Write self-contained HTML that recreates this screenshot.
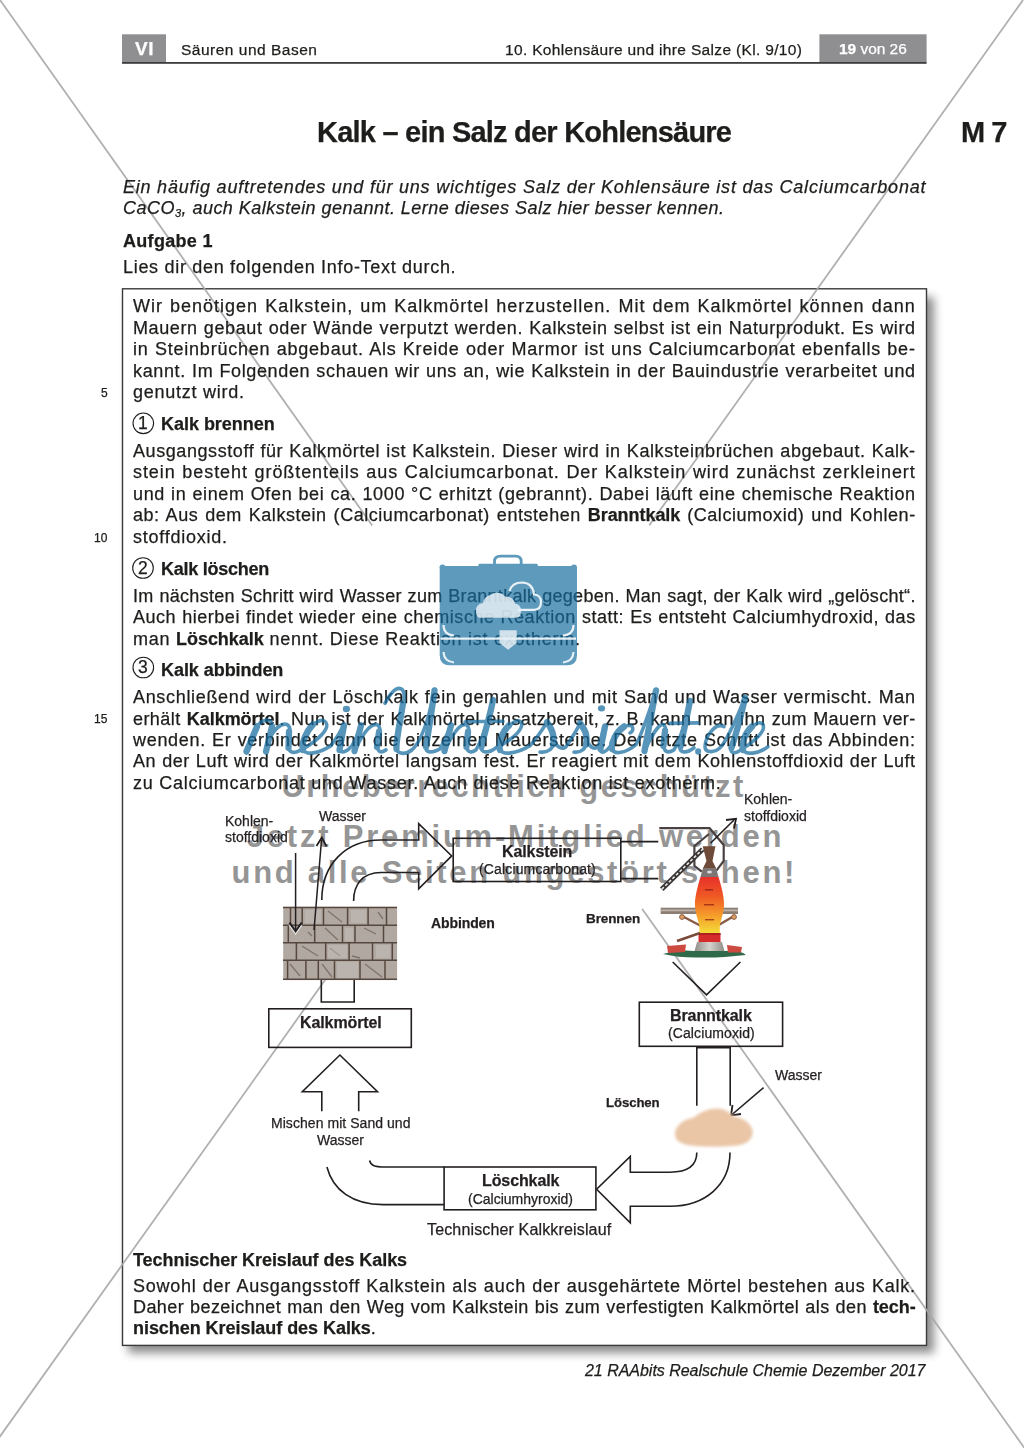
<!DOCTYPE html>
<html><head><meta charset="utf-8">
<style>
html,body{margin:0;padding:0;background:#fff;}
body{width:1024px;height:1448px;position:relative;overflow:hidden;font-family:"Liberation Sans",sans-serif;color:#1d1d1b;}
.t{position:absolute;will-change:transform;}
.t b{font-weight:bold;}
.t{-webkit-text-stroke:0.25px currentColor;}
.t sub{font-size:11px;vertical-align:-3px;line-height:0;}
svg{position:absolute;left:0;top:0;}
</style></head><body>
<svg width="1024" height="1448" viewBox="0 0 1024 1448">
<defs>
<filter id="sh" x="-10%" y="-10%" width="130%" height="130%"><feGaussianBlur stdDeviation="5"/></filter>
</defs>
<!-- header -->
<rect x="122" y="34.3" width="44" height="27.8" fill="#8f8f91"/>
<rect x="819.4" y="34.3" width="107.2" height="27.8" fill="#8f8f91"/>
<rect x="122" y="62" width="804.6" height="1.8" fill="#3c3c3c"/>
<!-- box shadow -->
<rect x="128" y="297" width="806" height="1056" fill="#000" opacity="0.45" filter="url(#sh)"/>
<rect x="122.5" y="288.8" width="804" height="1056.6" fill="#fff" stroke="#3a3a3a" stroke-width="1.4"/>
</svg>

<svg width="1024" height="1448" viewBox="0 0 1024 1448">
<g font-family="Liberation Sans" font-weight="bold" fill="#959595">
<text x="281.5" y="796.6" font-size="31" letter-spacing="2.42">Urheberrechtlich geschützt</text>
<text x="246.8" y="846.6" font-size="31" letter-spacing="2.79">Jetzt Premium-Mitglied werden</text>
<text x="231.5" y="883" font-size="31" letter-spacing="2.71">und alle Seiten ungestört sehen!</text>
</g>
</svg>

<svg width="1024" height="1448" viewBox="0 0 1024 1448">
<defs>
<filter id="blur1" x="-20%" y="-20%" width="140%" height="140%"><feGaussianBlur stdDeviation="1.6"/></filter>
<linearGradient id="fg" x1="0" y1="0" x2="0" y2="1">
<stop offset="0" stop-color="#e8302a"/><stop offset="0.35" stop-color="#ef5a24"/><stop offset="0.7" stop-color="#f5a02a"/><stop offset="1" stop-color="#f4dc3a"/></linearGradient>
<linearGradient id="base" x1="0" y1="0" x2="1" y2="0">
<stop offset="0" stop-color="#8d8a86"/><stop offset="0.5" stop-color="#d6d3cf"/><stop offset="1" stop-color="#8d8a86"/></linearGradient>
</defs>
<!-- circles -->
<g fill="none" stroke="#1d1d1b" stroke-width="1.1">
<circle cx="143.3" cy="423.3" r="10.3"/>
<circle cx="143" cy="568" r="10.3"/>
<circle cx="143.3" cy="667.5" r="10.3"/>
</g>
<!-- diagonal lines -->
<g stroke="#a8a8a8" stroke-width="1.8" opacity="0.9">
<line x1="0" y1="0" x2="372.2" y2="525.5"/>
<line x1="1023" y1="0" x2="649.3" y2="525.2"/>
<line x1="642.2" y1="908.9" x2="1024.4" y2="1448"/>
<line x1="375.7" y1="908.9" x2="-8.3" y2="1448"/>
</g>
<!-- diagram -->
<g fill="none" stroke="#231f20" stroke-width="1.6">
<rect x="453.2" y="838.3" width="167.6" height="43.2"/>
<rect x="639.3" y="1002.2" width="143.3" height="44.1"/>
<rect x="268.8" y="1008.8" width="142.5" height="38.6"/>
<rect x="444.1" y="1167" width="151.8" height="42.8"/>
<path d="M321.8 900 C321.8 865 345 840 381 840 L418.7 840 L418.7 823.7 L451.7 855.9 L418.7 888.9 L418.7 872.5 L381 872.5 C362 872.5 353.6 885 353.6 901"/>
<path d="M321.8 1111.3 L321.8 1091.8 L302.3 1091.8 L339.9 1055 L377.5 1091.8 L358.7 1091.8 L358.7 1111.3"/>
<path d="M321.3 980 L321.3 1002 L354.2 1002 L354.2 980"/>
<path d="M672.7 962 L706.5 994.8 L740.4 962"/>
<path d="M696.8 1105.7 L696.8 1047.6 L730.2 1047.6 L730.2 1105.7"/>
<path d="M730 1152.6 C730 1185 705 1206.2 670 1206.2 L630.3 1206.2 L630.3 1222.9 L596.6 1189.2 L630.3 1156.4 L630.3 1172.2 L670 1172.2 C688 1172.2 696.8 1165 696.8 1152.6"/>
<path d="M326.9 1167 C333 1190 352 1204.6 383 1204.6 L444.1 1204.6"/>
<path d="M369.6 1160.5 C370.5 1165 374 1167 385 1167 L444.1 1167"/>
<path d="M620.8 841.6 L658.3 841.6 M620.8 878.6 L658.3 878.6"/>
<path d="M763.6 1087.6 L731.5 1115"/><path d="M732.5 1105 L731 1115.5 L741 1114" stroke-width="1.8"/>
</g>
<g fill="#231f20">

</g>
<!-- brick wall -->
<g>
<rect x="283.2" y="906.8" width="113.9" height="73.3" fill="#b1a8a1"/>
<g stroke="#57483f" stroke-width="1.5" fill="none">
<path d="M283 907.5 H397 M283 925.2 H397 M283 942.7 H397 M283 960.3 H397 M283 979.3 H397"/>
<path d="M290.5 907 V925 M302.2 907 V925 M323.5 907 V925 M347.6 907 V925 M368.1 907 V925 M386.5 907 V925"/>
<path d="M288.3 925 V943 M314.7 925 V943 M342.5 925 V943 M355 925 V943 M383.5 925 V943"/>
<path d="M296.4 943 V960 M325.7 943 V960 M349.1 943 V960 M372.5 943 V960 M392.3 943 V960"/>
<path d="M287.6 960 V980 M305.9 960 V980 M318.3 960 V980 M334.5 960 V980 M360 960 V980 M385 960 V980"/>
</g>
<g stroke="#6f625b" stroke-width="1.3" fill="none" opacity="0.75">
<path d="M328 911 L342 922 M378 912 L383 919 M325 928 L338 940 M364 928 L376 934 M302 946 L318 956 M330 948 L340 956 M352 956 L360 958 M290 964 L300 976 M322 964 L332 977 M365 964 L382 977 M308 932 L312 936"/>
</g>
<g fill="#c9c2bc" opacity="0.45">
<rect x="305" y="910" width="16" height="13"/><rect x="351" y="910" width="15" height="13"/><rect x="345" y="928" width="8" height="13"/><rect x="328" y="945" width="19" height="13"/><rect x="376" y="945" width="14" height="13"/><rect x="337" y="962" width="21" height="16"/>
</g>
</g>
<!-- arrows at wall -->
<g fill="none" stroke="#231f20" stroke-width="1.5">
<path d="M295.6 853 L295.6 931"/>
<path d="M314 930 L321.5 840"/>
<path d="M289.5 922.5 L295.6 931.5 L301.7 922.5" stroke-width="2"/>
</g>
<path d="M289 925 L295.6 934 L302 925" fill="none" stroke="#f2f2f2" stroke-width="1.2" opacity="0.8"/>
<path d="M316.5 846 L321.8 837.5 L326.5 846.5" fill="none" stroke="#231f20" stroke-width="1.8"/>
<!-- furnace -->
<g>
<path d="M659.3 828.2 L709.6 828.2 L723.7 845 L723.7 861 L716.4 870.7 M701.8 871.6 L694.4 866 L694.4 846 L709 834" fill="none" stroke="#4a4242" stroke-width="2.2"/>
<rect x="660.7" y="907.7" width="77.3" height="6.3" fill="#8c7d73"/>
<rect x="660.7" y="909.5" width="77.3" height="1.8" fill="#bdb3aa"/>
<path d="M682 916 L701 926 M734 916 L717 926" stroke="#8a5a44" stroke-width="2.4"/>
<circle cx="682" cy="917" r="2.4" fill="#e0a060" stroke="#8a5a44" stroke-width="1"/>
<circle cx="734" cy="917" r="2.4" fill="#e0a060" stroke="#8a5a44" stroke-width="1"/>
<path d="M702.7 846.2 L715.4 846.2 L712.5 861 L716 868 L703 868 L706.5 861 Z" fill="#6e4a38"/>
<path d="M703 868 L716 868 L718.5 877 L700.5 877 Z" fill="#7d7474"/>
<ellipse cx="709.5" cy="872" rx="2.5" ry="1.5" fill="#d9d9e0"/>
<path d="M700.5 877 L718.5 877 C722 888 724.5 899 724 906 C723.5 914 720.5 921 719.8 926 L719.8 933 L699.4 933 L699.4 926 C698.5 921 695.5 914 695 906 C694.5 899 697 888 700.5 877 Z" fill="url(#fg)"/>
<g fill="#8a1a10" opacity="0.7"><rect x="705" y="889" width="8" height="1.6"/><rect x="704" y="904" width="10" height="1.4"/><rect x="705" y="919" width="9" height="1.4"/></g>
<rect x="698.5" y="933" width="22" height="9" fill="#d42c2a"/>
<rect x="698.5" y="933" width="22" height="2" fill="#b01f1f"/>
<path d="M677 941 L700 933" stroke="#7a4a3a" stroke-width="2.6"/>
<path d="M697 942 L722 942 L725 953 L694 953 Z" fill="url(#base)"/>
<path d="M663 954 Q680 949 694 951 L725 951 Q740 950 746 955 Q720 958 700 957.5 Q680 958 663 954 Z" fill="#2f6a4b"/>
<path d="M667 946 L686 944.5 L685 952 L668 953 Z" fill="#cc4a3f"/>
<path d="M727 945 L742 947 L741 952.5 L728 952.5 Z" fill="#cc4a3f"/>
<path d="M661.7 889.2 L702.7 849.2" stroke="#3a3535" stroke-width="5"/>
<path d="M661.7 889.2 L702.7 849.2" stroke="#e8e8e8" stroke-width="1.6" stroke-dasharray="3 2"/>
</g>
<path d="M710.5 843.3 L734 820" fill="none" stroke="#231f20" stroke-width="1.6"/>
<path d="M726 820 L736 818.8 L734 828.5" fill="none" stroke="#231f20" stroke-width="1.8"/>
<!-- sand pile -->
<path d="M675 1133 Q677 1121 694 1117.5 Q704 1108.5 718 1108.5 Q728 1109.5 733 1116 Q749 1119 752.5 1130 Q754 1143 737 1145.5 Q714 1148 690 1145.5 Q674 1143 675 1133 Z" fill="#eac6a7" filter="url(#blur1)"/>
</svg>

<div class="t" style="left:181.00px;top:39.93px;font-size:15.5px;line-height:19px;letter-spacing:0.502px;white-space:nowrap;">Säuren und Basen</div>
<div class="t" style="left:505.00px;top:39.83px;font-size:15.5px;line-height:19px;letter-spacing:0.335px;white-space:nowrap;">10. Kohlensäure und ihre Salze (Kl. 9/10)</div>
<div class="t" style="left:135.20px;top:36.92px;font-size:19px;line-height:23px;font-weight:bold;color:#fff;letter-spacing:0.600px;white-space:nowrap;">VI</div>
<div class="t" style="left:839.40px;top:39.03px;font-size:15.5px;line-height:19px;color:#fff;letter-spacing:-0.028px;white-space:nowrap;"><b style="letter-spacing:-0.05px">19</b> von 26</div>
<div class="t" style="left:138.10px;top:413.04px;font-size:17.5px;line-height:21px;letter-spacing:0.000px;white-space:nowrap;">1</div>
<div class="t" style="left:137.80px;top:557.74px;font-size:17.5px;line-height:21px;letter-spacing:0.000px;white-space:nowrap;">2</div>
<div class="t" style="left:138.10px;top:657.34px;font-size:17.5px;line-height:21px;letter-spacing:0.000px;white-space:nowrap;">3</div>
<div class="t" style="left:316.60px;top:114.65px;font-size:29px;line-height:35px;font-weight:bold;letter-spacing:-0.780px;white-space:nowrap;">Kalk – ein Salz der Kohlensäure</div>
<div class="t" style="left:961.30px;top:114.65px;font-size:29px;line-height:35px;font-weight:bold;letter-spacing:-1.000px;white-space:nowrap;">M&nbsp;7</div>
<div class="t" style="left:123.30px;top:175.56px;font-size:18px;line-height:22px;font-style:italic;letter-spacing:0.776px;white-space:nowrap;">Ein häufig auftretendes und für uns wichtiges Salz der Kohlensäure ist das Calciumcarbonat</div>
<div class="t" style="left:123.30px;top:196.56px;font-size:18px;line-height:22px;font-style:italic;letter-spacing:0.470px;white-space:nowrap;">CaCO<sub>3</sub>, auch Kalkstein genannt. Lerne dieses Salz hier besser kennen.</div>
<div class="t" style="left:123.30px;top:230.06px;font-size:18px;line-height:22px;font-weight:bold;letter-spacing:0.300px;white-space:nowrap;">Aufgabe 1</div>
<div class="t" style="left:123.30px;top:256.16px;font-size:18px;line-height:22px;letter-spacing:0.695px;white-space:nowrap;">Lies dir den folgenden Info-Text durch.</div>
<div class="t" style="left:133.30px;top:295.46px;font-size:18px;line-height:22px;width:782.70px;text-align:justify;text-align-last:justify;letter-spacing:1.000px;">Wir benötigen Kalkstein, um Kalkmörtel herzustellen. Mit dem Kalkmörtel können dann</div>
<div class="t" style="left:133.30px;top:316.86px;font-size:18px;line-height:22px;width:782.70px;text-align:justify;text-align-last:justify;letter-spacing:0.612px;">Mauern gebaut oder Wände verputzt werden. Kalkstein selbst ist ein Naturprodukt. Es wird</div>
<div class="t" style="left:133.30px;top:338.26px;font-size:18px;line-height:22px;width:782.70px;text-align:justify;text-align-last:justify;letter-spacing:0.777px;">in Steinbrüchen abgebaut. Als Kreide oder Marmor ist uns Calciumcarbonat ebenfalls be-</div>
<div class="t" style="left:133.30px;top:359.66px;font-size:18px;line-height:22px;width:782.70px;text-align:justify;text-align-last:justify;letter-spacing:0.638px;">kannt. Im Folgenden schauen wir uns an, wie Kalkstein in der Bauindustrie verarbeitet und</div>
<div class="t" style="left:133.30px;top:381.06px;font-size:18px;line-height:22px;letter-spacing:0.750px;white-space:nowrap;">genutzt wird.</div>
<div class="t" style="left:133.30px;top:440.06px;font-size:18px;line-height:22px;width:782.70px;text-align:justify;text-align-last:justify;letter-spacing:0.574px;">Ausgangsstoff für Kalkmörtel ist Kalkstein. Dieser wird in Kalksteinbrüchen abgebaut. Kalk-</div>
<div class="t" style="left:133.30px;top:461.46px;font-size:18px;line-height:22px;width:782.70px;text-align:justify;text-align-last:justify;letter-spacing:0.930px;">stein besteht größtenteils aus Calciumcarbonat. Der Kalkstein wird zunächst zerkleinert</div>
<div class="t" style="left:133.30px;top:482.86px;font-size:18px;line-height:22px;width:782.70px;text-align:justify;text-align-last:justify;letter-spacing:0.636px;">und in einem Ofen bei ca. 1000 °C erhitzt (gebrannt). Dabei läuft eine chemische Reaktion</div>
<div class="t" style="left:133.30px;top:504.26px;font-size:18px;line-height:22px;width:782.70px;text-align:justify;text-align-last:justify;letter-spacing:0.545px;">ab: Aus dem Kalkstein (Calciumcarbonat) entstehen <b style="letter-spacing:-0.05px">Branntkalk</b> (Calciumoxid) und Kohlen-</div>
<div class="t" style="left:133.30px;top:525.66px;font-size:18px;line-height:22px;letter-spacing:0.750px;white-space:nowrap;">stoffdioxid.</div>
<div class="t" style="left:133.30px;top:584.86px;font-size:18px;line-height:22px;width:782.70px;text-align:justify;text-align-last:justify;letter-spacing:0.303px;">Im nächsten Schritt wird Wasser zum Branntkalk gegeben. Man sagt, der Kalk wird „gelöscht“.</div>
<div class="t" style="left:133.30px;top:606.26px;font-size:18px;line-height:22px;width:782.70px;text-align:justify;text-align-last:justify;letter-spacing:0.521px;">Auch hierbei findet wieder eine chemische Reaktion statt: Es entsteht Calciumhydroxid, das</div>
<div class="t" style="left:133.30px;top:627.66px;font-size:18px;line-height:22px;letter-spacing:0.750px;white-space:nowrap;">man <b style="letter-spacing:-0.05px">Löschkalk</b> nennt. Diese Reaktion ist exotherm.</div>
<div class="t" style="left:133.30px;top:686.26px;font-size:18px;line-height:22px;width:782.70px;text-align:justify;text-align-last:justify;letter-spacing:0.673px;">Anschließend wird der Löschkalk fein gemahlen und mit Sand und Wasser vermischt. Man</div>
<div class="t" style="left:133.30px;top:707.66px;font-size:18px;line-height:22px;width:782.70px;text-align:justify;text-align-last:justify;letter-spacing:0.428px;">erhält <b style="letter-spacing:-0.05px">Kalkmörtel</b>. Nun ist der Kalkmörtel einsatzbereit, z. B. kann man ihn zum Mauern ver-</div>
<div class="t" style="left:133.30px;top:729.06px;font-size:18px;line-height:22px;width:782.70px;text-align:justify;text-align-last:justify;letter-spacing:0.683px;">wenden. Er verbindet dann die einzelnen Mauersteine. Der letzte Schritt ist das Abbinden:</div>
<div class="t" style="left:133.30px;top:750.46px;font-size:18px;line-height:22px;width:782.70px;text-align:justify;text-align-last:justify;letter-spacing:0.557px;">An der Luft wird der Kalkmörtel langsam fest. Er reagiert mit dem Kohlenstoffdioxid der Luft</div>
<div class="t" style="left:133.30px;top:771.86px;font-size:18px;line-height:22px;letter-spacing:0.750px;white-space:nowrap;">zu Calciumcarbonat und Wasser. Auch diese Reaktion ist exotherm.</div>
<div class="t" style="left:160.60px;top:413.16px;font-size:18px;line-height:22px;font-weight:bold;letter-spacing:-0.024px;white-space:nowrap;">Kalk brennen</div>
<div class="t" style="left:160.80px;top:557.86px;font-size:18px;line-height:22px;font-weight:bold;letter-spacing:-0.262px;white-space:nowrap;">Kalk löschen</div>
<div class="t" style="left:160.60px;top:659.46px;font-size:18px;line-height:22px;font-weight:bold;letter-spacing:-0.055px;white-space:nowrap;">Kalk abbinden</div>
<div class="t" style="right:916.70px;top:385.84px;font-size:12px;line-height:14px;letter-spacing:0.000px;white-space:nowrap;">5</div>
<div class="t" style="right:916.70px;top:530.54px;font-size:12px;line-height:14px;letter-spacing:0.000px;white-space:nowrap;">10</div>
<div class="t" style="right:916.70px;top:711.74px;font-size:12px;line-height:14px;letter-spacing:0.000px;white-space:nowrap;">15</div>
<div class="t" style="left:133.30px;top:1248.56px;font-size:18px;line-height:22px;font-weight:bold;letter-spacing:-0.056px;white-space:nowrap;">Technischer Kreislauf des Kalks</div>
<div class="t" style="left:133.30px;top:1274.56px;font-size:18px;line-height:22px;width:782.70px;text-align:justify;text-align-last:justify;letter-spacing:0.746px;">Sowohl der Ausgangsstoff Kalkstein als auch der ausgehärtete Mörtel bestehen aus Kalk.</div>
<div class="t" style="left:133.30px;top:1295.96px;font-size:18px;line-height:22px;width:782.70px;text-align:justify;text-align-last:justify;letter-spacing:0.400px;">Daher bezeichnet man den Weg vom Kalkstein bis zum verfestigten Kalkmörtel als den <b style="letter-spacing:-0.05px">tech-</b></div>
<div class="t" style="left:133.30px;top:1317.26px;font-size:18px;line-height:22px;letter-spacing:0.750px;white-space:nowrap;"><b style="letter-spacing:-0.05px">nischen Kreislauf des Kalks</b>.</div>
<div class="t" style="left:585.20px;top:1360.86px;font-size:16px;line-height:19px;font-style:italic;letter-spacing:-0.026px;white-space:nowrap;">21 RAAbits Realschule Chemie Dezember 2017</div>
<div class="t" style="left:225.10px;top:812.75px;font-size:14px;line-height:17px;color:#231f20;letter-spacing:0.000px;white-space:nowrap;">Kohlen-</div>
<div class="t" style="left:225.10px;top:829.15px;font-size:14px;line-height:17px;color:#231f20;letter-spacing:0.000px;white-space:nowrap;">stoffdioxid</div>
<div class="t" style="left:318.60px;top:808.35px;font-size:14px;line-height:17px;color:#231f20;letter-spacing:0.000px;white-space:nowrap;">Wasser</div>
<div class="t" style="left:501.70px;top:841.76px;font-size:16px;line-height:19px;font-weight:bold;color:#231f20;letter-spacing:-0.100px;white-space:nowrap;">Kalkstein</div>
<div class="t" style="left:478.60px;top:861.25px;font-size:14px;line-height:17px;color:#231f20;letter-spacing:0.150px;white-space:nowrap;">(Calciumcarbonat)</div>
<div class="t" style="left:743.50px;top:791.25px;font-size:14px;line-height:17px;color:#231f20;letter-spacing:0.000px;white-space:nowrap;">Kohlen-</div>
<div class="t" style="left:743.50px;top:807.95px;font-size:14px;line-height:17px;color:#231f20;letter-spacing:0.000px;white-space:nowrap;">stoffdioxid</div>
<div class="t" style="left:431.20px;top:915.25px;font-size:14px;line-height:17px;font-weight:bold;color:#231f20;letter-spacing:-0.100px;white-space:nowrap;">Abbinden</div>
<div class="t" style="left:585.90px;top:911.22px;font-size:13.5px;line-height:16px;font-weight:bold;color:#231f20;letter-spacing:-0.100px;white-space:nowrap;">Brennen</div>
<div class="t" style="left:299.60px;top:1012.56px;font-size:16px;line-height:19px;font-weight:bold;color:#231f20;letter-spacing:-0.100px;white-space:nowrap;">Kalkmörtel</div>
<div class="t" style="left:670.00px;top:1006.16px;font-size:16px;line-height:19px;font-weight:bold;color:#231f20;letter-spacing:-0.100px;white-space:nowrap;">Branntkalk</div>
<div class="t" style="left:667.50px;top:1025.45px;font-size:14px;line-height:17px;color:#231f20;letter-spacing:0.100px;white-space:nowrap;">(Calciumoxid)</div>
<div class="t" style="left:775.30px;top:1066.85px;font-size:14px;line-height:17px;color:#231f20;letter-spacing:0.000px;white-space:nowrap;">Wasser</div>
<div class="t" style="left:606.00px;top:1094.63px;font-size:13.2px;line-height:16px;font-weight:bold;color:#231f20;letter-spacing:-0.100px;white-space:nowrap;">Löschen</div>
<div class="t" style="left:271.20px;top:1115.05px;font-size:14px;line-height:17px;color:#231f20;letter-spacing:0.050px;white-space:nowrap;">Mischen mit Sand und</div>
<div class="t" style="left:317.30px;top:1132.15px;font-size:14px;line-height:17px;color:#231f20;letter-spacing:0.000px;white-space:nowrap;">Wasser</div>
<div class="t" style="left:481.70px;top:1171.46px;font-size:16px;line-height:19px;font-weight:bold;color:#231f20;letter-spacing:-0.100px;white-space:nowrap;">Löschkalk</div>
<div class="t" style="left:468.00px;top:1190.65px;font-size:14px;line-height:17px;color:#231f20;letter-spacing:0.000px;white-space:nowrap;">(Calciumhyroxid)</div>
<div class="t" style="left:427.00px;top:1220.36px;font-size:16px;line-height:19px;color:#231f20;letter-spacing:0.150px;white-space:nowrap;">Technischer Kalkkreislauf</div>
<svg width="1024" height="1448" viewBox="0 0 1024 1448">

<!-- briefcase -->
<g opacity="0.69">
<path d="M443 566 L573 566 Q577 566 577 570 L577 655 Q577 665.3 567 665.3 L450 665.3 Q439.7 665.3 439.7 655 L439.7 570 Q439.7 566 443 566 Z" fill="#166d9f"/>
<circle cx="442.5" cy="567.5" r="3" fill="#166d9f"/>
<circle cx="574" cy="567.5" r="3" fill="#166d9f"/>
<rect x="478.4" y="563.8" width="59.4" height="3" rx="1.2" fill="#166d9f"/>
<path d="M494.5 566 L494.5 561.5 Q494.5 556.2 500.5 556.2 L515.5 556.2 Q521.2 556.2 521.2 561.5 L521.2 566" fill="none" stroke="#166d9f" stroke-width="2.8"/>
</g>
<g fill="none" stroke="#eef5f9" stroke-width="2.2" opacity="0.95">
<path d="M440.5 638.7 L576 638.7"/>
<path d="M443.5 625 Q443.5 634.5 454 635.5"/>
<path d="M573.5 625 Q573.5 634.5 563 635.5"/>
<path d="M443.5 652 Q444 661.5 454 662.5"/>
<path d="M573.5 652 Q573 661.5 563 662.5"/>
<path d="M518 609.8 L534 609.8 Q541 609.8 541 602 Q541 595 534 594.5 Q533 583 522 582.5 Q512 582.5 509.5 591"/>
</g>
<g fill="#e6eff5" opacity="0.85">
<path d="M480 617.8 L516 617.8 Q521 617.8 521 611 Q521 604 515 603.5 Q513 596 505 596.5 Q499 590 490 595 Q484 597 483 603 Q476 604 476 610.5 Q476 617.8 480 617.8 Z"/>
<path d="M499.5 630.2 L516.7 630.2 L516.7 643 L508.1 649.7 L499.5 643 Z"/>
</g>
<!-- script -->
<g opacity="0.72" transform="translate(0 752) scale(1 1.06) translate(0 -752)">
<path fill="none" stroke="#166d9f" stroke-width="3.5" stroke-linecap="round" stroke-linejoin="round" d="M246 752 C250 742 254 733 257 728 C262 721 273 719 272 728 C271 736 268 745 266 752 M269 740 C274 731 281 724 287 726 C292 728 290 738 289 746 C288 752 293 754 299 751 M299 751 C308 747 322 738 326 730 C329 724 323 719 315 725 C306 732 300 744 303 750 C306 755 318 754 331 746 M331 746 C336 740 341 732 344 726 C342 734 339 744 340 750 C342 754 348 751 352 746 M352 746 C356 740 359 732 361 727 C359 735 356 744 354 752 C360 740 368 726 376 726 C382 727 380 736 378 744 C376 751 380 754 386 750 M385 706 C389 699 394 692 399 692 C405 692 405 700 403 710 C400 725 396 740 396 748 C397 754 405 755 412 750 C422 742 430 715 434.7 693.2 C432 710 428 735 426 746 C425 752 430 754 440 749 M440 749 C444 742 448 733 451 727 C449 735 446 744 444 752 C450 740 458 726 465 726 C471 727 469 737 467 745 C466 751 470 754 476 750 M476 750 C482 740 489 720 493.3 702.6 C490 718 483 738 481 746 C480 753 488 754 496 748 M465 723.7 C478 723 492 723 503 723 M496 748 C505 744 518 736 521 729 C524 723 518 720 511 726 C502 733 497 744 500 750 C503 755 516 754 530 746 M530 746 C536 740 543 730 547 724 C550 728 556 732 554 742 C553 749 548 753 540 752 M554 742 C558 748 562 750 566 747 M566 747 C571 740 577 731 580 725 C583 729 589 733 587 742 C586 749 581 753 574 752 M587 742 C591 748 594 750 598 747 M598 747 C601 740 603 733 605 727 C603 735 600 744 600 750 C602 754 606 752 610 747 M610 747 C614 738 620 728 628 727 C634 726 634 732 630 734 M628 727 C618 728 610 742 612 749 C614 755 626 753 636 745 M636 745 C642 735 650 712 656.4 693.2 C652 712 648 735 644.1 752 C650 740 656 728 662 726 C667 726 666 735 664 744 C663 751 667 754 674 750 M674 750 C680 740 686 722 690.6 702.8 C687 718 682 738 680 746 C679 753 686 754 694 748 M670 725 C680 724.5 690 724.5 698 724.5 M724 728 C716 724 706 736 705 746 C704 754 716 753 722 746 C730 736 740 712 745.3 700.7 C741 718 734 740 731 748 C730 754 736 754 742 749 M742 749 C750 745 760 737 763 731 C765 725 760 722 754 727 C746 734 740 744 743 750 C746 755 758 754 768 747"/>
<path fill="none" stroke="#166d9f" stroke-width="6.3" stroke-linecap="round" stroke-linejoin="round" d="M257 728 L246.5 751.5 M272 728 L266 751.5 M289 733 L288.5 748 M313 726 C306 733 301 744 303 750 M344 727 L339.5 750 M361 727 L354.5 751 M379 733 L377 747 M403 706 C400 725 396 740 396.5 749 M434.5 694 C432 712 428 735 426 747 M451 727 L444.5 751 M468 733 L466.5 747 M493 703 C490 718 484 736 481.5 747 M509 727 C502 733 498 744 500 750 M547 724 C552 730 555 736 553 745 M580 725 C585 731 588 736 586 745 M605 728 L600.5 749 M624 728 C616 733 611 743 612 749 M656 694 C652 712 648 735 644.5 751 M665 732 L663.5 746 M690 704 C687 718 683 736 680.5 747 M745 701 C741 718 735 738 731.5 748 M752 728 C745 734 741 744 743 750"/>
<g fill="#166d9f"><ellipse cx="346.4" cy="711.4" rx="3.6" ry="3"/><ellipse cx="601.5" cy="710.8" rx="3.6" ry="3"/><circle cx="698.1" cy="751.5" r="3"/></g>
</g>
</svg>

</body></html>
